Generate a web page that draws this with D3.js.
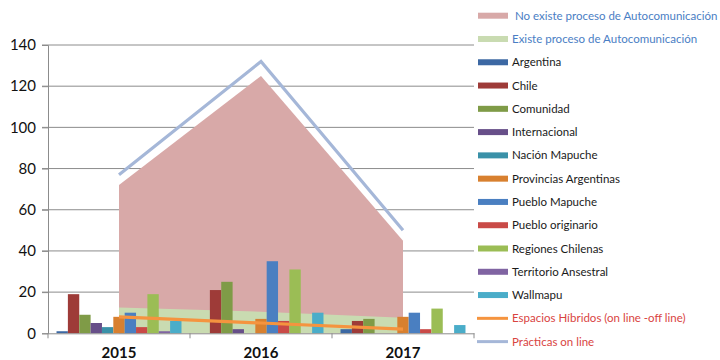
<!DOCTYPE html>
<html>
<head>
<meta charset="utf-8">
<script src="https://cdn.jsdelivr.net/npm/d3@7"></script>
<style>
  html, body { margin: 0; padding: 0; background: #fff; }
  svg { display: block; }
  text { font-family: Lato, "Open Sans", sans-serif; }
</style>
</head>
<body>
<svg id="chart" width="720" height="360"></svg>
<script>
// Years on the category axis
const years = ["2015", "2016", "2017"];
const yTicks = [0, 20, 40, 60, 80, 100, 120, 140];

// Area series
const noExiste = [72, 125, 45];
const existe = [12.5, 10.5, 7.5];

// Clustered bar series
const barNames = ["Argentina", "Chile", "Comunidad", "Internacional", "Nación Mapuche",
  "Provincias Argentinas", "Pueblo Mapuche", "Pueblo originario", "Regiones Chilenas",
  "Territorio Ansestral", "Wallmapu"];
const argentina = [1, 0, 2];
const chile = [19, 21, 6];
const comunidad = [9, 25, 7];
const internacional = [5, 2, 0];
const nacionMapuche = [3, 0, 0];
const provinciasArgentinas = [8, 7, 8];
const puebloMapuche = [10, 35, 10];
const puebloOriginario = [3, 6, 2];
const regionesChilenas = [19, 31, 12];
const territorioAnsestral = [1, 0, 0];
const wallmapu = [6, 10, 4];
const barValues = [argentina, chile, comunidad, internacional, nacionMapuche,
  provinciasArgentinas, puebloMapuche, puebloOriginario, regionesChilenas,
  territorioAnsestral, wallmapu];
const barColors = ["#3c68a3", "#9e3b38", "#7f9b47", "#674f89", "#3a91a8",
  "#d8802f", "#4a7fc1", "#c94a47", "#9bbd55", "#8064a2", "#4aadc9"];

// Line series
const espaciosHibridos = [8, 5, 2];
const practicasOnline = [77, 132, 50];

const svg = d3.select("#chart");
const margin = { left: 48, right: 474, top: 45, bottom: 333.3 };

const x = d3.scaleBand().domain(years).range([margin.left, margin.right]).paddingInner(0).paddingOuter(0);
const y = d3.scaleLinear().domain([0, 140]).range([margin.bottom, margin.top]);
const xc = d => x(d) + x.bandwidth() / 2;

// Clustered bar geometry: 11 bars with a 150% gap
const nBars = barNames.length;
const barW = x.bandwidth() / (nBars + 1.5);
const xb = d3.scaleBand().domain(d3.range(nBars))
  .range([barW * 0.75, x.bandwidth() - barW * 0.75]).padding(0);

// Gridlines
svg.append("g").selectAll("line").data(yTicks.filter(t => t > 0)).join("line")
  .attr("x1", margin.left - 6).attr("x2", margin.right)
  .attr("y1", d => y(d)).attr("y2", d => y(d))
  .attr("stroke", "#8c8c8c").attr("stroke-width", 1);

// Areas
const area = d3.area().x((d, i) => xc(years[i])).y0(y(0)).y1(d => y(d));
svg.append("path").datum(noExiste).attr("d", area).attr("fill", "#d8a9a8");
svg.append("path").datum(existe).attr("d", area).attr("fill", "#c9dbb1");

// Bars
barValues.forEach((vals, s) => {
  svg.append("g").selectAll("rect").data(vals).join("rect")
    .attr("x", (d, i) => x(years[i]) + xb(s))
    .attr("width", xb.bandwidth())
    .attr("y", d => y(d))
    .attr("height", d => y(0) - y(d))
    .attr("fill", barColors[s]);
});

// Axes
const yAxis = d3.axisLeft(y).tickValues(yTicks).tickSize(6).tickPadding(6);
const gy = svg.append("g").attr("transform", `translate(${margin.left},0)`).call(yAxis);
gy.select(".domain").attr("stroke", "#8c8c8c");
gy.selectAll(".tick line").attr("stroke", "#8c8c8c");
gy.selectAll(".tick text").attr("font-size", 15).attr("fill", "#111")
  .attr("font-family", "Lato, sans-serif");

const xAxis = d3.axisBottom(x).tickSize(0).tickPadding(14);
const gx = svg.append("g").attr("transform", `translate(0,${y(0)})`).call(xAxis);
gx.select(".domain").attr("stroke", "#8c8c8c");
gx.selectAll(".tick text").attr("font-size", 15).attr("fill", "#111")
  .attr("font-weight", "bold").attr("font-family", "Lato, sans-serif");
// Category boundary ticks
const bounds = years.map(d => x(d)).concat([margin.right]);
svg.append("g").selectAll("line").data(bounds).join("line")
  .attr("x1", d => d).attr("x2", d => d)
  .attr("y1", y(0)).attr("y2", y(0) + 5)
  .attr("stroke", "#8c8c8c");

// Lines
const line = d3.line().x((d, i) => xc(years[i])).y(d => y(d));
svg.append("path").datum(espaciosHibridos).attr("d", line)
  .attr("fill", "none").attr("stroke", "#f5943f").attr("stroke-width", 3.2);
svg.append("path").datum(practicasOnline).attr("d", line)
  .attr("fill", "none").attr("stroke", "#a5b7d8").attr("stroke-width", 3.2);

// Legend
const legend = [
  { name: " No existe proceso de Autocomunicación", color: "#d8a9a8", type: "rect", text: "#4a7ec4" },
  { name: "Existe proceso de Autocomunicación", color: "#c9dbb1", type: "rect", text: "#4a7ec4" },
  ...barNames.map((n, i) => ({ name: n, color: barColors[i], type: "rect", text: "#1a1a1a" })),
  { name: "Espacios Híbridos (on line -off line)", color: "#f5943f", type: "line", text: "#d9443f" },
  { name: "Prácticas on line", color: "#a5b7d8", type: "line", text: "#d9443f" }
];
const lg = svg.append("g");
legend.forEach((d, i) => {
  const cy = 15.7 + i * 23.28;
  if (d.type === "rect") {
    lg.append("rect").attr("x", 478).attr("y", cy - 3).attr("width", 30).attr("height", 6).attr("fill", d.color);
  } else {
    lg.append("line").attr("x1", 477).attr("x2", 508).attr("y1", cy).attr("y2", cy)
      .attr("stroke", d.color).attr("stroke-width", 3);
  }
  lg.append("text").attr("x", 512).attr("y", cy).attr("dy", "0.35em")
    .attr("font-size", 11.5).attr("fill", d.text).attr("xml:space", "preserve")
    .style("white-space", "pre").text(d.name);
});
</script>
</body>
</html>
